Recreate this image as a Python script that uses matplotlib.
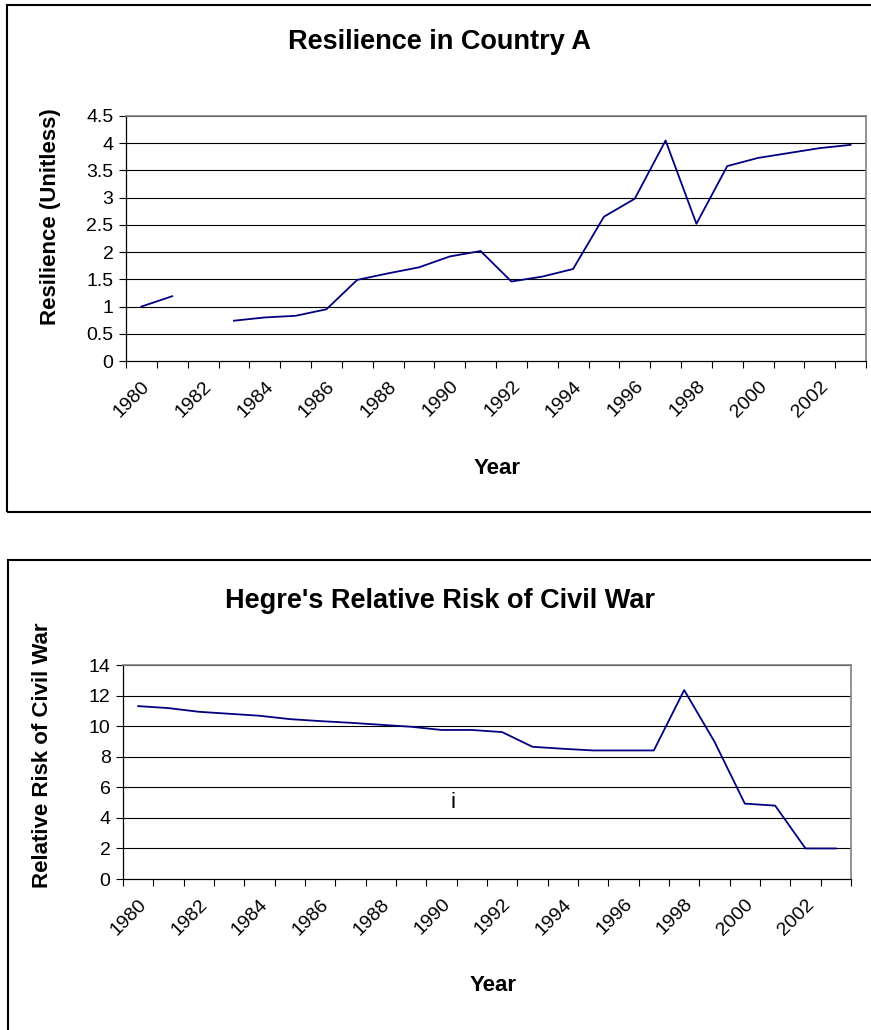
import numpy as np
import matplotlib
matplotlib.use("Agg")
import matplotlib.pyplot as plt
from matplotlib.patches import Rectangle

plt.rcParams["font.family"] = ["Liberation Sans", "DejaVu Sans"]

years = list(range(1980, 2004))
resilience = [1.00, 1.19, np.nan, 0.74, 0.80, 0.83, 0.95, 1.49, 1.61, 1.72, 1.92, 2.02,
              1.46, 1.55, 1.69, 2.65, 2.98, 4.05, 2.52, 3.58, 3.73, 3.82, 3.91, 3.97]
risk = [11.31, 11.18, 10.94, 10.81, 10.68, 10.46, 10.33, 10.22, 10.09, 9.96, 9.75, 9.75,
        9.61, 8.65, 8.52, 8.41, 8.41, 8.41, 12.36, 8.98, 4.93, 4.80, 2.00, 2.00]
res_ticks = [0, 0.5, 1, 1.5, 2, 2.5, 3, 3.5, 4, 4.5]
res_ticklabels = ["0", "0.5", "1", "1.5", "2", "2.5", "3", "3.5", "4", "4.5"]
risk_ticks = [0, 2, 4, 6, 8, 10, 12, 14]

W, H = 871, 1030
fig = plt.figure(figsize=(W / 100, H / 100), dpi=100)


def px_axes(x0, y0, x1, y1):
    return fig.add_axes([x0 / W, 1 - y1 / H, (x1 - x0) / W, (y1 - y0) / H])


def box(x0, y0, x1, y1):
    fig.patches.append(Rectangle((x0 / W, 1 - y1 / H), (x1 - x0) / W, (y1 - y0) / H,
                                 transform=fig.transFigure, fill=False,
                                 edgecolor="black", linewidth=1.5))


def excel_line(ax, values, yticks, yticklabels, ymax):
    n = len(years)
    pos = np.arange(n) + 0.5
    ax.plot(pos, values, color="#000080", linewidth=1.3)
    ax.set_xlim(0, n)
    ax.set_ylim(0, ymax)
    ax.set_yticks(yticks)
    ax.set_yticklabels(yticklabels, fontsize=14)
    for y in yticks[1:]:
        ax.axhline(y, color="black", linewidth=0.8, zorder=0)
    # tick marks between categories, labels every other year
    ax.set_xticks(np.arange(n + 1))
    ax.set_xticklabels([""] * (n + 1))
    ax.set_xticks(pos[::2], minor=True)
    ax.set_xticklabels([str(y) for y in years[::2]], minor=True, fontsize=14,
                       rotation=45, ha="right", va="top", rotation_mode="anchor")
    ax.tick_params(axis="x", which="minor", length=0, pad=12)
    ax.tick_params(axis="y", which="major", pad=4)
    ax.tick_params(axis="both", which="major", length=5, direction="out", width=0.8)
    for s in ("top", "right"):
        ax.spines[s].set_color("#808080")
        ax.spines[s].set_linewidth(1.2)
    for s in ("left", "bottom"):
        ax.spines[s].set_color("black")
        ax.spines[s].set_linewidth(0.9)


# top chart
box(7, 5, 880, 512)
ax1 = px_axes(126, 116, 866, 361)
excel_line(ax1, resilience, res_ticks, res_ticklabels, 4.5)
fig.text(440 / W, 1 - 42 / H, "Resilience in Country A", ha="center", va="center",
         fontsize=19.5, fontweight="bold")
ax1.set_xlabel("Year", fontsize=16, fontweight="bold")
ax1.xaxis.set_label_coords((497 - 126) / 740, -(458 - 361) / 245)
ax1.set_ylabel("Resilience (Unitless)", fontsize=16, fontweight="bold")
ax1.yaxis.set_label_coords((61 - 126) / 740, 0.59)

# bottom chart
box(8, 560, 880, 1045)
ax2 = px_axes(123, 665, 851, 879)
excel_line(ax2, risk, risk_ticks, [str(t) for t in risk_ticks], 14)
fig.text(440 / W, 1 - 601 / H, "Hegre's Relative Risk of Civil War", ha="center",
         va="center", fontsize=19.5, fontweight="bold")
ax2.set_xlabel("Year", fontsize=16, fontweight="bold")
ax2.xaxis.set_label_coords((493 - 123) / 728, -(975 - 879) / 214)
ax2.set_ylabel("Relative Risk of Civil War", fontsize=16, fontweight="bold")
ax2.yaxis.set_label_coords((53 - 123) / 728, 0.58)
fig.text(453 / W, 1 - 803 / H, "i", ha="center", va="center", fontsize=16)

fig.savefig("out.png", dpi=100)
